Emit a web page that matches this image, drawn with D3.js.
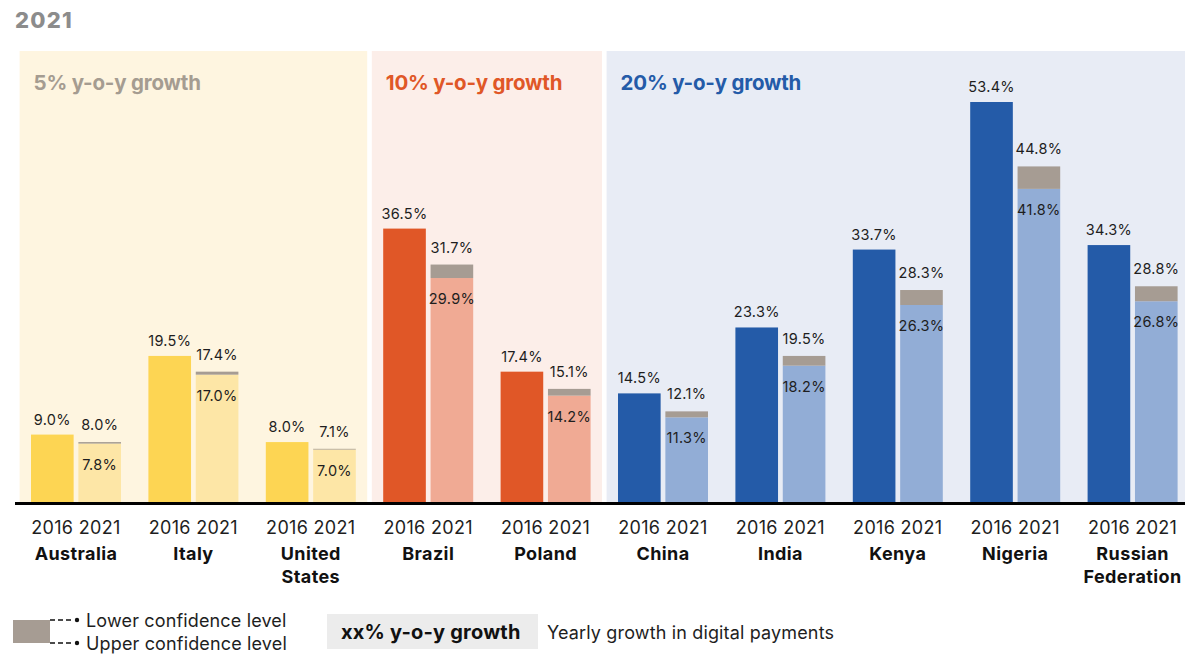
<!DOCTYPE html>
<html>
<head>
<meta charset="utf-8">
<script src="https://cdn.jsdelivr.net/npm/d3@7"></script>
<style>
  html, body { margin: 0; padding: 0; background: #fff; }
  svg { display: block; font-family: Inter, "Noto Sans", sans-serif; }
</style>
</head>
<body>
<svg id="chart" width="1185" height="654"></svg>
<script>
// Digital payments share, 2016 vs 2021 forecast with confidence band
const countries = ["Australia", "Italy", "United States", "Brazil", "Poland",
                   "China", "India", "Kenya", "Nigeria", "Russian Federation"];
const countryLines = [["Australia"], ["Italy"], ["United", "States"], ["Brazil"], ["Poland"],
                      ["China"], ["India"], ["Kenya"], ["Nigeria"], ["Russian", "Federation"]];
const years = ["2016", "2021"];
const values2016 = [9.0, 19.5, 8.0, 36.5, 17.4, 14.5, 23.3, 33.7, 53.4, 34.3];
const lower2021 = [7.8, 17.0, 7.0, 29.9, 14.2, 11.3, 18.2, 26.3, 41.8, 26.8];
const upper2021 = [8.0, 17.4, 7.1, 31.7, 15.1, 12.1, 19.5, 28.3, 44.8, 28.8];
const growthGroup = ["5%", "5%", "5%", "10%", "10%", "20%", "20%", "20%", "20%", "20%"];
const groups = ["5%", "10%", "20%"];

const palette = {
  "5%":  { bg: "#fef5e0", dark: "#fdd553", light: "#fde6a6", title: "#a59c91" },
  "10%": { bg: "#fceee9", dark: "#e05727", light: "#f0aa94", title: "#e05727" },
  "20%": { bg: "#e8ecf5", dark: "#245ba8", light: "#92add6", title: "#245ba8" }
};
const bandColor = "#a69c93";
const textColor = "#1e1e1e";

const svg = d3.select("#chart");

const x = d3.scaleBand().domain(countries).range([17.3, 1191.3]).padding(0);
const xYear = d3.scaleBand().domain(years).range([-45, 45]).paddingInner(0.1);
const baseY = 502;
const y = d3.scaleLinear().domain([0, 53.4]).range([baseY, 102]);

// Title
svg.append("text").attr("x", 15).attr("y", 28)
  .attr("font-size", 22).attr("font-weight", 800).attr("fill", "#8c8c8c")
  .attr("letter-spacing", 1.2)
  .text("2021");

// Growth-group background panels
groups.forEach(g => {
  const members = countries.filter((c, i) => growthGroup[i] === g);
  const x0 = x(members[0]) + 2.3;
  const x1 = x(members[members.length - 1]) + x.bandwidth() - 2.3;
  svg.append("rect").attr("x", x0).attr("y", 51)
    .attr("width", x1 - x0).attr("height", baseY - 51)
    .attr("fill", palette[g].bg);
  svg.append("text").attr("x", x0 + 14).attr("y", 90)
    .attr("font-size", 20.5).attr("font-weight", 700).attr("fill", palette[g].title)
    .attr("letter-spacing", -0.2)
    .text(g + " y-o-y growth");
});

const groupsSel = svg.append("g").selectAll("g")
  .data(countries).join("g")
  .attr("transform", d => `translate(${x(d) + x.bandwidth() / 2},0)`);

const lbl = (sel) => sel.attr("font-size", 14.5).attr("fill", textColor)
  .attr("letter-spacing", 0.3).attr("text-anchor", "middle");

groupsSel.each(function (c, i) {
  const gSel = d3.select(this);
  const col = palette[growthGroup[i]];
  const bw = xYear.bandwidth();
  const x16 = xYear("2016"), x21 = xYear("2021");

  // 2016 bar
  gSel.append("rect").attr("x", x16).attr("width", bw)
    .attr("y", y(values2016[i])).attr("height", baseY - y(values2016[i]))
    .attr("fill", col.dark);
  gSel.append("text").call(lbl)
    .attr("x", x16 + bw / 2).attr("y", y(values2016[i]) - 10)
    .text(values2016[i].toFixed(1) + "%");

  // 2021 bar up to lower confidence level
  gSel.append("rect").attr("x", x21).attr("width", bw)
    .attr("y", y(lower2021[i])).attr("height", baseY - y(lower2021[i]))
    .attr("fill", col.light);
  // confidence band between lower and upper level
  gSel.append("rect").attr("x", x21).attr("width", bw)
    .attr("y", y(upper2021[i])).attr("height", y(lower2021[i]) - y(upper2021[i]))
    .attr("fill", bandColor);
  gSel.append("text").call(lbl)
    .attr("x", x21 + bw / 2).attr("y", y(upper2021[i]) - 12)
    .text(upper2021[i].toFixed(1) + "%");
  gSel.append("text").call(lbl)
    .attr("x", x21 + bw / 2).attr("y", y(lower2021[i]) + 26)
    .text(lower2021[i].toFixed(1) + "%");

  // year labels
  years.forEach(yr => {
    gSel.append("text").attr("x", xYear(yr) + bw / 2).attr("y", 534)
      .attr("text-anchor", "middle").attr("font-size", 18).attr("fill", textColor)
      .attr("letter-spacing", 0.3)
      .text(yr);
  });

  // country name
  const t = gSel.append("text").attr("text-anchor", "middle")
    .attr("font-size", 18).attr("font-weight", 700).attr("fill", "#111")
    .attr("letter-spacing", 0.4);
  countryLines[i].forEach((line, k) => {
    t.append("tspan").attr("x", 0).attr("y", 560 + k * 23).text(line);
  });
});

// Baseline axis
svg.append("line").attr("x1", 15).attr("x2", 1185)
  .attr("y1", baseY + 1.5).attr("y2", baseY + 1.5)
  .attr("stroke", "#000").attr("stroke-width", 3);

// Legend: confidence band
const lg = svg.append("g");
lg.append("rect").attr("x", 13).attr("y", 620).attr("width", 37).attr("height", 23)
  .attr("fill", bandColor);
[620, 643].forEach((yy, k) => {
  lg.append("line").attr("x1", 50).attr("x2", 73).attr("y1", yy).attr("y2", yy)
    .attr("stroke", "#111").attr("stroke-width", 1.3).attr("stroke-dasharray", "5,3");
  lg.append("circle").attr("cx", 77).attr("cy", yy).attr("r", 2.2).attr("fill", "#111");
  lg.append("text").attr("x", 86).attr("y", yy + 6.5)
    .attr("font-size", 18).attr("fill", textColor).attr("letter-spacing", 0.15)
    .text(k === 0 ? "Lower confidence level" : "Upper confidence level");
});

// Legend: growth group tag
lg.append("rect").attr("x", 327).attr("y", 614).attr("width", 211).attr("height", 35)
  .attr("fill", "#ececec");
lg.append("text").attr("x", 341).attr("y", 639)
  .attr("font-size", 20).attr("font-weight", 700).attr("fill", "#111")
  .attr("letter-spacing", 0.2)
  .text("xx% y-o-y growth");
lg.append("text").attr("x", 547).attr("y", 638.5)
  .attr("font-size", 18).attr("fill", textColor).attr("letter-spacing", 0.15)
  .text("Yearly growth in digital payments");
</script>
</body>
</html>
